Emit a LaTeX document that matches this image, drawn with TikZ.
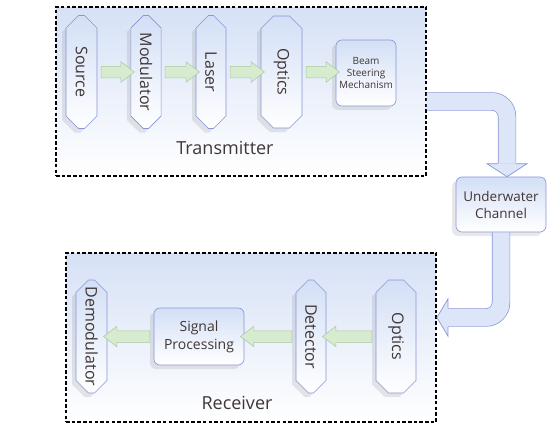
\documentclass[tikz,border=0pt]{standalone}
\usepackage{fontspec}
\setmainfont{Open Sans}
\usetikzlibrary{calc,positioning,shapes.misc,shapes.arrows,shadows}
\definecolor{figedge}{HTML}{8A94D6}
\definecolor{figfill}{HTML}{D3DFF6}
\definecolor{figbox}{HTML}{D6E1F6}
\definecolor{figtext}{HTML}{403636}
\definecolor{figgreen}{HTML}{D7EBCF}
\definecolor{figgreenedge}{HTML}{A9C99F}
\definecolor{figpipe}{HTML}{DCE6F8}

\tikzset{
  stage/.style={chamfered rectangle, chamfered rectangle xsep=9pt,
    draw=figedge, line width=0.6pt, top color=figfill, bottom color=white,
    minimum height=113pt, inner sep=0pt, text=figtext,
    font=\fontsize{16}{18}\selectfont,
    drop shadow={shadow xshift=-4pt, shadow yshift=-4pt, opacity=0.18}},
  block/.style={rectangle, rounded corners=6pt,
    draw=figedge, line width=0.6pt, top color=figfill, bottom color=white,
    align=center, inner sep=0pt, text=figtext,
    drop shadow={shadow xshift=-4pt, shadow yshift=-4pt, opacity=0.18}},
  panel/.style={draw=black, line width=1.8pt, dash pattern=on 3.5pt off 2.2pt,
    top color=figbox, bottom color=white, minimum width=370pt, minimum height=169pt},
  flowarr/.style={single arrow, draw=figgreenedge, fill=figgreen, line width=0.5pt,
    inner xsep=0pt, inner ysep=5.5pt, single arrow head extend=4.5pt,
    single arrow tip angle=75},
  pipe/.style={draw=figedge, line width=0.7pt, double=figpipe, double distance=17pt,
    rounded corners=15pt},
  pipehead/.style={draw=figedge, fill=figpipe, line width=0.7pt},
  title/.style={text=figtext, font=\fontsize{18}{20}\selectfont}
}

\newcommand{\vlabel}[1]{\rotatebox{-90}{#1}}
\newcommand{\flowlink}[2]{%
  \path let \p1=(#1), \p2=(#1 -| #2), \n1={veclen(\x2-\x1,\y2-\y1)} in
    (\p1) -- node[flowarr, sloped, allow upside down, minimum height=\n1] {} (\p2);}

\begin{document}
\begin{tikzpicture}[x=1pt,y=-1pt]
\useasboundingbox (0,0) rectangle (550,431);

\node[panel] (txbox) at (241,91.5) {};
\node[panel] (rxbox) at (251,337.5) {};

% transmitter chain
\node[stage, minimum width=31pt] (src) at (81.5,72) {\vlabel{Source}};
\node[stage, minimum width=30pt] (mod) at (146,72) {\vlabel{Modulator}};
\node[stage, minimum width=30pt] (laser) at (211,72) {\vlabel{Laser}};
\node[stage, minimum width=41pt, minimum height=112pt] (txoptics) at (281.5,72) {\vlabel{Optics}};
\node[block, minimum width=60pt, minimum height=66pt,
  font=\fontsize{10}{12}\selectfont] (beam) at (366,73) {Beam\\Steering\\Mechanism};
\node[title] (txlabel) at (225,148) {Transmitter};

\flowlink{src.east}{mod.west}
\flowlink{mod.east}{laser.west}
\flowlink{laser.east}{txoptics.west}
\flowlink{txoptics.east}{beam.west}

\node[block, minimum width=90pt, minimum height=55pt,
  font=\fontsize{13.5}{17}\selectfont] (chan) at (501,204.5) {Underwater\\Channel};

% receiver chain
\node[stage, minimum width=40pt] (rxoptics) at (396,336.5) {\vlabel{Optics}};
\node[stage, minimum width=30pt] (det) at (311,336.5) {\vlabel{Detector}};
\node[block, minimum width=90pt, minimum height=57pt,
  font=\fontsize{14}{18}\selectfont] (sigproc) at (199,336.5) {Signal\\Processing};
\node[stage, minimum width=31pt] (demod) at (91.5,336.5) {\vlabel{Demodulator}};
\node[title] (rxlabel) at (237,403) {Receiver};

\flowlink{rxoptics.west}{det.east}
\flowlink{det.west}{sigproc.east}
\flowlink{sigproc.west}{demod.east}

% channel links
\coordinate (s1) at ($(txbox.east)+(0,10)$);
\coordinate (t1) at ($(chan.north)+(6,0)$);
\draw[pipe] (s1) -- (s1 -| t1) -- ($(t1)+(0,-13)$);
\filldraw[pipehead] ($(t1)+(-9.2,-13)$) -- ($(t1)+(-20,-13)$) -- (t1)
  -- ($(t1)+(20,-13)$) -- ($(t1)+(9.2,-13)$);

\coordinate (t2) at ($(rxbox.east)+(0,-20)$);
\draw[pipe] (chan.south) -- (chan.south |- t2) -- ($(t2)+(11,0)$);
\filldraw[pipehead] ($(t2)+(11,-9.2)$) -- ($(t2)+(11,-18.5)$) -- (t2)
  -- ($(t2)+(11,18.5)$) -- ($(t2)+(11,9.2)$);
\end{tikzpicture}
\end{document}
